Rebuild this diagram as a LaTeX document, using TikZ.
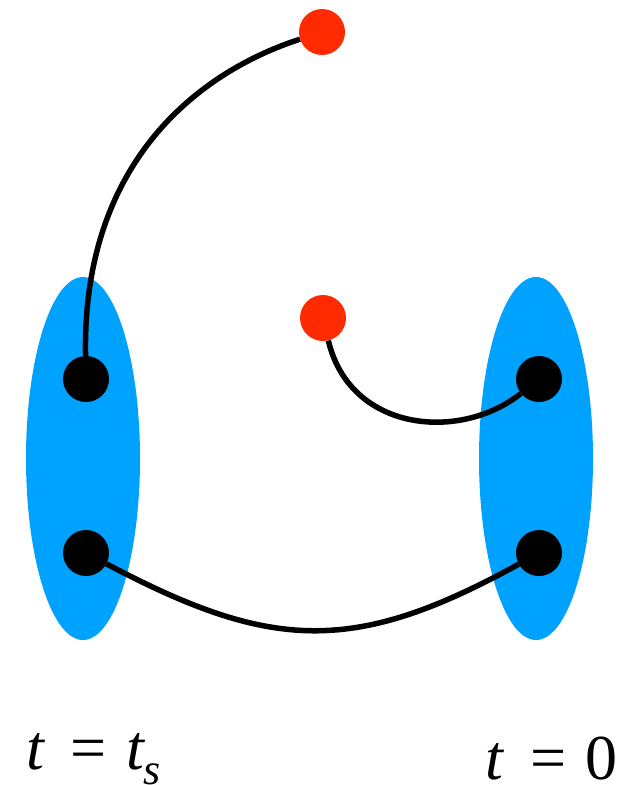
\documentclass[tikz,border=0pt]{standalone}
\usepackage{fontspec}
\setmainfont{Liberation Serif}
\newfontfamily\labelfont{Liberation Serif}
\usetikzlibrary{shapes.geometric}
\definecolor{lobe}{HTML}{00A2FF}
\definecolor{redpt}{HTML}{FF2A00}
\tikzset{
  lobe/.style={ellipse, fill=lobe, draw=none, inner sep=0pt, minimum width=114pt, minimum height=363pt},
  blackdot/.style={circle, fill=black, draw=none, inner sep=0pt, minimum size=46pt},
  reddot/.style={circle, fill=redpt, draw=none, inner sep=0pt, minimum size=46pt},
  link/.style={draw=black, line width=5.5pt},
  lbl/.style={inner sep=0pt, font=\labelfont\fontsize{64}{70}\selectfont}
}
\begin{document}
\begin{tikzpicture}[x=1pt,y=-1pt]
\useasboundingbox (0,0) rectangle (623,785);
\node[lobe] (L) at (83,458.5) {};
\node[lobe] (R) at (536,458.5) {};
\node[blackdot] (L1) at (86,379) {};
\node[blackdot] (L2) at (86,553) {};
\node[blackdot] (R1) at (539,379) {};
\node[blackdot] (R2) at (539,553) {};
\node[reddot] (T1) at (322,32) {};
\node[reddot] (T2) at (323,318) {};
\draw[link] (T1) .. controls (190,75) and (82,170) .. (L1);
\draw[link] (T2) .. controls (350,432) and (460,442) .. (R1);
\draw[link] (L2) .. controls (271,651) and (354,655) .. (R2);
\node[lbl, anchor=base west] (tl) at (26,769) {\itshape t\hspace{0.42em}\upshape=\hspace{0.3em}\itshape t\raisebox{-0.24em}{\fontsize{44}{44}\selectfont s}};
\node[lbl, anchor=base east] (tr) at (618,779) {\itshape t\hspace{0.42em}\upshape=\hspace{0.3em}0};
\end{tikzpicture}
\end{document}
